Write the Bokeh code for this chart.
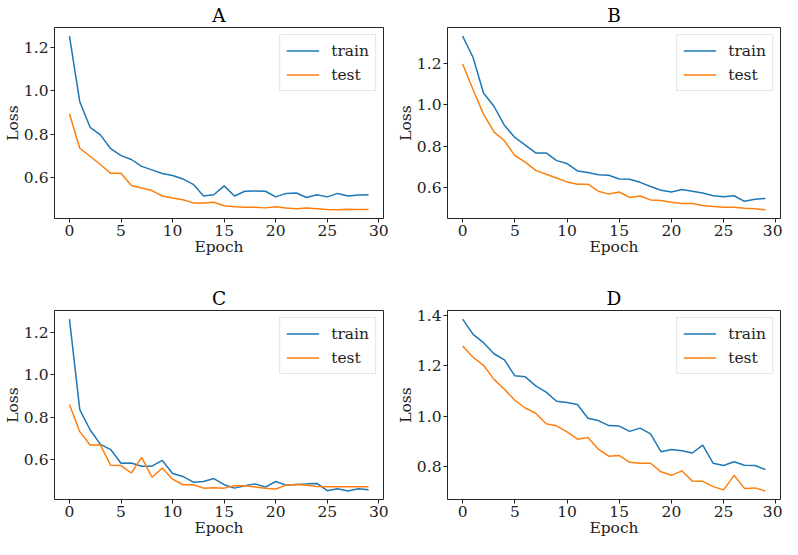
from bokeh.plotting import figure
from bokeh.layouts import gridplot
from bokeh.models import Range1d, FixedTicker, PrintfTickFormatter
from bokeh.embed import file_html
from bokeh.resources import INLINE

epochs = list(range(30))

a_train = [1.253, 0.949, 0.831, 0.796, 0.732, 0.700, 0.682, 0.650, 0.634, 0.617,
           0.608, 0.592, 0.567, 0.513, 0.519, 0.560, 0.513, 0.535, 0.536, 0.535,
           0.509, 0.525, 0.527, 0.506, 0.519, 0.509, 0.525, 0.513, 0.518, 0.519]
a_test = [0.894, 0.734, 0.697, 0.659, 0.618, 0.618, 0.562, 0.550, 0.538, 0.513,
          0.504, 0.496, 0.481, 0.481, 0.484, 0.468, 0.463, 0.461, 0.461, 0.458,
          0.463, 0.457, 0.454, 0.457, 0.454, 0.451, 0.449, 0.452, 0.451, 0.451]

b_train = [1.332, 1.229, 1.057, 0.993, 0.901, 0.842, 0.805, 0.767, 0.767, 0.730,
           0.716, 0.680, 0.672, 0.662, 0.659, 0.641, 0.640, 0.625, 0.605, 0.587,
           0.578, 0.590, 0.582, 0.573, 0.560, 0.555, 0.560, 0.533, 0.543, 0.547]
b_test = [1.197, 1.073, 0.955, 0.869, 0.826, 0.754, 0.723, 0.683, 0.664, 0.646,
          0.627, 0.616, 0.616, 0.582, 0.568, 0.578, 0.552, 0.559, 0.540, 0.537,
          0.529, 0.523, 0.523, 0.513, 0.508, 0.505, 0.505, 0.500, 0.497, 0.492]

c_train = [1.261, 0.836, 0.742, 0.673, 0.649, 0.585, 0.586, 0.571, 0.571, 0.598,
           0.537, 0.523, 0.496, 0.499, 0.513, 0.484, 0.468, 0.479, 0.488, 0.473,
           0.499, 0.482, 0.485, 0.488, 0.490, 0.456, 0.465, 0.455, 0.465, 0.461]
c_test = [0.860, 0.733, 0.670, 0.670, 0.575, 0.574, 0.539, 0.612, 0.519, 0.562,
          0.510, 0.484, 0.484, 0.468, 0.470, 0.468, 0.479, 0.479, 0.473, 0.467,
          0.464, 0.482, 0.485, 0.481, 0.476, 0.475, 0.475, 0.475, 0.475, 0.475]

d_train = [1.386, 1.325, 1.292, 1.248, 1.224, 1.160, 1.156, 1.120, 1.095, 1.059,
           1.054, 1.046, 0.991, 0.982, 0.962, 0.960, 0.939, 0.952, 0.929, 0.858,
           0.867, 0.862, 0.853, 0.884, 0.812, 0.803, 0.818, 0.804, 0.803, 0.787]
d_test = [1.279, 1.234, 1.202, 1.146, 1.107, 1.063, 1.032, 1.011, 0.969, 0.961,
          0.937, 0.908, 0.915, 0.868, 0.840, 0.843, 0.816, 0.812, 0.812, 0.778,
          0.764, 0.782, 0.741, 0.740, 0.719, 0.706, 0.764, 0.712, 0.714, 0.702]

titles = ["A", "B", "C", "D"]
series_labels = ["train", "test"]
x_ticks = [0, 5, 10, 15, 20, 25, 30]
y_ticks = [0.4, 0.6, 0.8, 1.0, 1.2, 1.4]

FONT = "DejaVu Serif"
BLUE = "#1f77b4"
ORANGE = "#ff7f0e"


def make(title, train, test, h, left, right, top, bottom):
    lo = min(min(train), min(test))
    hi = max(max(train), max(test))
    pad = (hi - lo) * 0.05
    xpad = (epochs[-1] - epochs[0]) * 0.05
    p = figure(width=391, height=h, output_backend="svg", toolbar_location=None,
               x_range=Range1d(epochs[0] - xpad, epochs[-1] + xpad),
               y_range=Range1d(lo - pad, hi + pad),
               min_border_left=left, min_border_right=right,
               min_border_top=top, min_border_bottom=bottom)
    p.title.text = title
    p.title.align = "center"
    p.title.text_font = FONT
    p.title.text_font_size = "18.5px"
    p.title.text_font_style = "normal"
    p.title.text_color = "black"
    p.title.standoff = 4
    p.line(epochs, train, color=BLUE, line_width=1.5, legend_label=series_labels[0])
    p.line(epochs, test, color=ORANGE, line_width=1.5, legend_label=series_labels[1])
    p.grid.visible = False
    p.outline_line_color = "black"
    p.outline_line_alpha = 0.85
    p.outline_line_width = 1
    for ax in (p.xaxis[0], p.yaxis[0]):
        ax.axis_line_color = None
        ax.major_tick_out = 4
        ax.major_tick_in = 0
        ax.minor_tick_line_color = None
        ax.major_tick_line_color = "#222222"
        ax.major_label_text_font = FONT
        ax.major_label_text_font_size = "15.5px"
        ax.major_label_text_color = "#222222"
        ax.major_label_standoff = 2
        ax.axis_label_text_font = FONT
        ax.axis_label_text_font_size = "15.5px"
        ax.axis_label_text_font_style = "normal"
        ax.axis_label_text_color = "#222222"
        ax.axis_label_standoff = -1
    p.xaxis.ticker = FixedTicker(ticks=x_ticks)
    p.xaxis.formatter = PrintfTickFormatter(format="%d")
    p.yaxis.ticker = FixedTicker(ticks=y_ticks)
    p.yaxis.formatter = PrintfTickFormatter(format="%.1f")
    p.xaxis.axis_label = "Epoch"
    p.yaxis.axis_label = "Loss"
    lg = p.legend[0]
    lg.location = "top_right"
    lg.margin = 7
    lg.padding = 6
    lg.spacing = 5
    lg.glyph_width = 33
    lg.glyph_height = 19
    lg.label_standoff = 12
    lg.label_text_font = FONT
    lg.label_text_font_size = "15.5px"
    lg.label_text_color = "#222222"
    lg.border_line_color = "#cccccc"
    lg.border_line_width = 1
    lg.background_fill_alpha = 0.8
    return p


pa = make(titles[0], a_train, a_test, 264, 40, 8, 26, 46)
pb = make(titles[1], b_train, b_test, 264, 56, 2, 26, 46)
pc = make(titles[2], c_train, c_test, 275, 40, 8, 46, 36)
pd_ = make(titles[3], d_train, d_test, 275, 56, 2, 46, 36)

grid = gridplot([[pa, pb], [pc, pd_]], toolbar_location=None)

open("out.html", "w").write(file_html(grid, INLINE))
